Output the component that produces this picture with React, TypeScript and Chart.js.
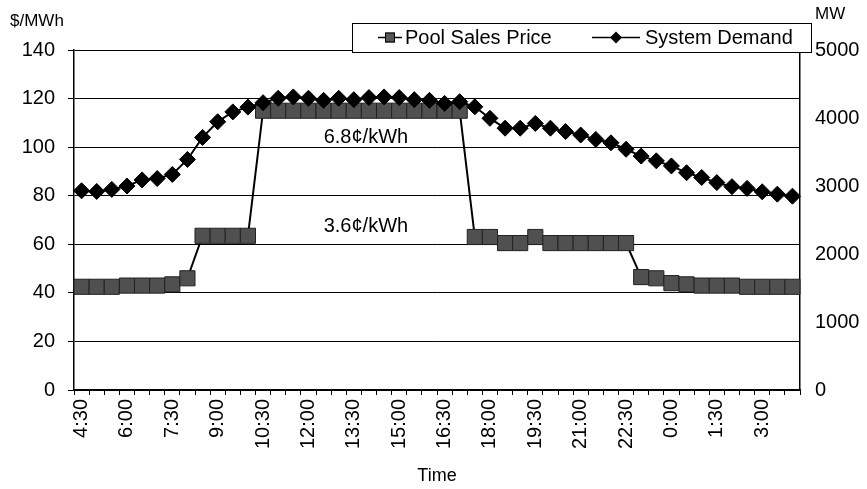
import React, { useEffect, useRef } from "react";
import { Chart, registerables } from "chart.js";

Chart.register(...registerables);

const times = [
  "4:30", "5:00", "5:30", "6:00", "6:30", "7:00", "7:30", "8:00", "8:30", "9:00", "9:30", "10:00",
  "10:30", "11:00", "11:30", "12:00", "12:30", "13:00", "13:30", "14:00", "14:30", "15:00", "15:30", "16:00",
  "16:30", "17:00", "17:30", "18:00", "18:30", "19:00", "19:30", "20:00", "20:30", "21:00", "21:30", "22:00",
  "22:30", "23:00", "23:30", "0:00", "0:30", "1:00", "1:30", "2:00", "2:30", "3:00", "3:30", "4:00",
];

const poolSalesPrice = [
  42.5, 42.5, 42.5, 43, 43, 43, 43.5, 46, 63.5, 63.5, 63.5, 63.5,
  115, 115, 115, 115, 115, 115, 115, 115, 115, 115, 115, 115,
  115, 115, 63, 63, 60.5, 60.5, 63, 60.5, 60.5, 60.5, 60.5, 60.5,
  60.5, 46.5, 46, 44, 43.5, 43, 43, 43, 42.5, 42.5, 42.5, 42.5,
];

const systemDemand = [
  2930, 2920, 2950, 3000, 3090, 3110, 3170, 3390, 3715, 3945, 4090, 4160,
  4225, 4290, 4310, 4290, 4260, 4290, 4270, 4300, 4310, 4300, 4270, 4260,
  4215, 4240, 4165, 3995, 3850, 3850, 3920, 3850, 3800, 3750, 3685, 3635,
  3540, 3440, 3370, 3295, 3195, 3125, 3050, 2990, 2965, 2915, 2880, 2850,
];

const priceTicks = { min: 0, max: 140, step: 20 };
const demandTicks = { min: 0, max: 5000, step: 1000 };

const annotations = [
  { text: "6.8¢/kWh", index: 18.8, value: 104 },
  { text: "3.6¢/kWh", index: 18.8, value: 67.5 },
];

const seriesNames = ["Pool Sales Price", "System Demand"];
const leftUnit = "$/MWh";
const rightUnit = "MW";
const xTitle = "Time";

const FONT = '"Liberation Sans", Arial, Helvetica, sans-serif';

const extrasPlugin = {
  id: "extras",
  beforeDraw(chart: any) {
    const { ctx, width, height } = chart;
    ctx.save();
    ctx.fillStyle = "#ffffff";
    ctx.fillRect(0, 0, width, height);
    ctx.restore();
  },
  afterDraw(chart: any) {
    const { ctx, chartArea, scales } = chart;
    ctx.save();
    ctx.fillStyle = "#000";
    ctx.textBaseline = "middle";

    // annotations
    ctx.font = `20px ${FONT}`;
    ctx.textAlign = "center";
    for (const a of annotations) {
      ctx.fillText(a.text, scales.x.getPixelForValue(a.index), scales.y.getPixelForValue(a.value));
    }

    // unit titles
    ctx.font = `17px ${FONT}`;
    ctx.textAlign = "left";
    ctx.fillText(leftUnit, 10, 21);
    ctx.fillText(rightUnit, chartArea.right + 15, 14);

    // legend
    const boxRight = chartArea.right + 11;
    const boxLeft = boxRight - 459;
    const boxTop = chartArea.top - 27;
    const boxBottom = chartArea.top + 2;
    ctx.fillStyle = "#fff";
    ctx.fillRect(boxLeft, boxTop, boxRight - boxLeft, boxBottom - boxTop);
    ctx.strokeStyle = "#000";
    ctx.lineWidth = 1;
    ctx.strokeRect(boxLeft + 0.5, boxTop + 0.5, boxRight - boxLeft, boxBottom - boxTop);
    const cy = (boxTop + boxBottom) / 2;

    // item 1
    ctx.lineWidth = 1.5;
    ctx.beginPath();
    ctx.moveTo(boxLeft + 26, cy);
    ctx.lineTo(boxLeft + 50, cy);
    ctx.stroke();
    ctx.fillStyle = "#555";
    ctx.fillRect(boxLeft + 33, cy - 5, 10, 10);
    ctx.lineWidth = 1;
    ctx.strokeRect(boxLeft + 33.5, cy - 4.5, 9, 9);

    // item 2
    ctx.lineWidth = 1.5;
    ctx.beginPath();
    ctx.moveTo(boxLeft + 240, cy);
    ctx.lineTo(boxLeft + 288, cy);
    ctx.stroke();
    ctx.fillStyle = "#000";
    const dx = boxLeft + 264;
    ctx.beginPath();
    ctx.moveTo(dx - 6, cy);
    ctx.lineTo(dx, cy - 6);
    ctx.lineTo(dx + 6, cy);
    ctx.lineTo(dx, cy + 6);
    ctx.closePath();
    ctx.fill();

    ctx.font = `20px ${FONT}`;
    ctx.textAlign = "left";
    ctx.fillStyle = "#000";
    ctx.fillText(seriesNames[0], boxLeft + 53, cy + 1);
    ctx.fillText(seriesNames[1], boxLeft + 293, cy + 1);
    ctx.restore();
  },
};

export default function App() {
  const canvasRef = useRef<HTMLCanvasElement | null>(null);

  useEffect(() => {
    if (!canvasRef.current) return;
    const chart = new Chart(canvasRef.current, {
      type: "line",
      data: {
        labels: times,
        datasets: [
          {
            label: seriesNames[1],
            data: systemDemand,
            yAxisID: "y1",
            order: 0,
            borderColor: "#000",
            borderWidth: 2,
            backgroundColor: "#000",
            pointStyle: "rectRot",
            pointRadius: 8,
            pointBorderWidth: 1,
            pointBorderColor: "#000",
            pointBackgroundColor: "#000",
            tension: 0,
          },
          {
            label: seriesNames[0],
            data: poolSalesPrice,
            yAxisID: "y",
            order: 1,
            borderColor: "#000",
            borderWidth: 2,
            backgroundColor: "#505050",
            pointStyle: "rect",
            pointRadius: 10.7,
            pointBorderWidth: 1,
            pointBorderColor: "#222",
            pointBackgroundColor: "#505050",
            tension: 0,
          },
        ],
      },
      options: {
        animation: false,
        responsive: false,
        maintainAspectRatio: false,
        devicePixelRatio: 1,
        layout: { padding: { top: 50, left: 0, right: 0, bottom: 0 } },
        plugins: { legend: { display: false }, tooltip: { enabled: false } },
        scales: {
          x: {
            type: "category",
            offset: true,
            grid: { offset: true, drawOnChartArea: false, drawTicks: true, tickLength: 5, color: "#000" },
            border: { display: true, color: "#000", width: 1.5 },
            ticks: {
              autoSkip: false,
              minRotation: 90,
              maxRotation: 90,
              padding: 4,
              color: "#000",
              font: { family: FONT, size: 20 },
              callback: (_v: any, i: number) => (i % 3 === 0 ? times[i] : ""),
            },
            title: {
              display: true,
              text: xTitle,
              color: "#000",
              font: { family: FONT, size: 18 },
              padding: { top: 0, bottom: 2 },
            },
            afterFit: (s: any) => {
              s.height = 99;
            },
          },
          y: {
            position: "left",
            min: priceTicks.min,
            max: priceTicks.max,
            grid: { color: "#000", lineWidth: 1, tickLength: 6 },
            border: { display: true, color: "#000", width: 1.5 },
            ticks: {
              stepSize: priceTicks.step,
              padding: 13,
              color: "#000",
              font: { family: FONT, size: 20 },
              callback: (v: any) => String(v),
            },
            afterFit: (s: any) => {
              s.width = 74;
            },
          },
          y1: {
            position: "right",
            min: demandTicks.min,
            max: demandTicks.max,
            grid: { drawOnChartArea: false, drawTicks: false },
            border: { display: true, color: "#000", width: 1.5 },
            ticks: {
              stepSize: demandTicks.step,
              padding: 15,
              color: "#000",
              font: { family: FONT, size: 20 },
              callback: (v: any) => String(v),
            },
            afterFit: (s: any) => {
              s.width = 67;
            },
          },
        },
      },
      plugins: [extrasPlugin],
    });
    return () => chart.destroy();
  }, []);

  return (
    <div style={{ position: "absolute", left: 0, top: 0, width: 867, height: 489, background: "#fff" }}>
      <canvas ref={canvasRef} width={867} height={489} />
    </div>
  );
}
